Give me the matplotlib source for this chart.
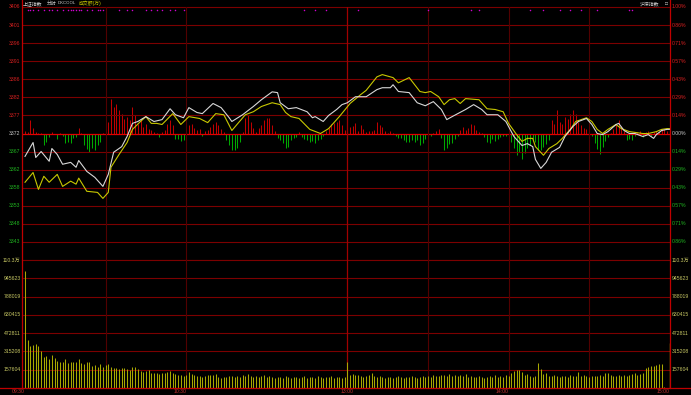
import numpy as np
import matplotlib
matplotlib.use("Agg")
import matplotlib.pyplot as plt
import matplotlib.transforms as mtransforms

plt.rcParams['font.family'] = ['Liberation Sans', 'Noto Sans CJK SC', 'DejaVu Sans']

# ---- data (minute index 0 = 09:30, 120 = 11:30/13:00, 240 = 15:00) ----
prev_close = 3372.0
amount_max = 1103226.5   # 成交额 axis top, 万

# 上证指数 (white line)
white_t = [0, 3, 4, 6, 9, 10, 12, 14, 17, 19,
           20, 23, 26, 29, 31, 33, 36, 38, 40, 42,
           45, 48, 51, 54, 56, 59, 61, 64, 66, 70,
           73, 76, 77, 81, 85, 88, 92, 94, 95, 98,
           101, 105, 107, 108, 111, 113, 116, 118, 120, 123,
           127, 131, 133, 136, 137, 139, 143, 146, 149, 152,
           155, 157, 159, 164, 167, 170, 172, 176, 179, 182,
           185, 187, 189, 190, 192, 194, 196, 199, 201, 204,
           206, 209, 211, 213, 215, 217, 220, 221, 223, 225,
           227, 230, 232, 234, 235, 237, 239, 240]
white_p = [3365.9, 3369.6, 3365.6, 3367.2, 3364.6, 3368.0, 3366.4, 3363.8, 3364.3, 3363.0,
           3364.8, 3361.9, 3360.3, 3357.9, 3361.1, 3367.0, 3368.5, 3371.2, 3374.7, 3375.2,
           3376.5, 3375.2, 3375.7, 3378.6, 3377.0, 3376.2, 3378.9, 3377.6, 3377.3, 3380.0,
           3378.9, 3376.2, 3375.2, 3377.0, 3379.2, 3381.0, 3383.1, 3382.9, 3380.2, 3378.6,
           3378.9, 3377.8, 3376.2, 3376.5, 3375.2, 3376.8, 3378.4, 3379.7, 3380.2, 3381.8,
           3381.8, 3383.7, 3384.2, 3384.2, 3385.0, 3383.2, 3382.9, 3380.2, 3379.4, 3380.5,
           3378.4, 3375.7, 3376.5, 3378.4, 3379.7, 3378.4, 3377.0, 3377.0, 3375.2, 3371.2,
           3368.8, 3369.3, 3368.5, 3365.1, 3362.7, 3364.3, 3367.0, 3368.3, 3371.2, 3373.9,
           3375.2, 3376.0, 3374.4, 3372.0, 3371.7, 3372.5, 3374.4, 3374.7, 3372.8, 3372.0,
           3372.0, 3371.2, 3371.7, 3370.7, 3371.7, 3372.8, 3373.1, 3373.1]

# 不含加权 (yellow line)
yellow_t = [0, 3, 5, 7, 9, 12, 14, 17, 19, 20,
            23, 27, 29, 31, 32, 35, 38, 40, 43, 45,
            47, 49, 51, 55, 58, 61, 65, 68, 71, 74,
            77, 82, 85, 88, 92, 95, 97, 99, 102, 106,
            110, 113, 117, 121, 125, 127, 131, 133, 137, 139,
            143, 147, 149, 151, 154, 156, 158, 160, 162, 164,
            169, 172, 175, 178, 180, 183, 185, 187, 189, 190,
            193, 195, 198, 200, 203, 205, 209, 211, 213, 215,
            217, 220, 222, 225, 227, 230, 232, 235, 237, 239, 240]
yellow_p = [3359.0, 3361.6, 3357.1, 3360.6, 3359.0, 3361.1, 3357.9, 3359.3, 3358.5, 3360.1,
            3356.6, 3356.3, 3354.7, 3356.3, 3363.0, 3366.4, 3369.6, 3373.1, 3375.2, 3376.5,
            3374.7, 3374.7, 3374.4, 3377.3, 3374.4, 3376.5, 3376.0, 3374.9, 3377.3, 3377.0,
            3372.8, 3377.0, 3377.8, 3379.2, 3380.2, 3379.7, 3377.6, 3376.5, 3376.0, 3373.1,
            3372.0, 3373.3, 3376.5, 3380.0, 3382.4, 3383.5, 3387.1, 3387.7, 3386.9, 3385.5,
            3386.9, 3383.2, 3382.9, 3383.2, 3381.8, 3379.7, 3381.0, 3381.3, 3380.0, 3381.3,
            3381.0, 3378.6, 3378.4, 3377.8, 3374.7, 3371.7, 3369.9, 3370.7, 3370.7, 3368.5,
            3366.2, 3368.0, 3369.3, 3370.7, 3373.1, 3375.2, 3376.2, 3375.2, 3373.1, 3372.0,
            3373.1, 3374.4, 3373.3, 3372.5, 3372.3, 3372.0, 3372.0, 3372.5, 3373.1, 3373.3, 3373.3]

# DKCOOL red/green bars, one per minute
dkcool = [3, 2, 14, 6, 2, 1, 1, -11, -8, -3,
          2, 0, -5, 1, -2, -9, -8, -9, -4, -3,
          6, 1, -11, -15, -18, -14, -16, -11, -8, 1,
          5, 12, 35, 27, 30, 24, 20, 15, 17, 14,
          27, 19, 10, 14, 7, 10, 5, 4, 2, 1,
          -3, 2, 4, 10, 14, 9, -5, -5, -7, -6,
          2, 9, 10, 6, 4, 5, -2, 3, 4, 7,
          10, 12, 9, 5, 2, -6, -11, -16, -16, -14,
          -8, 2, 16, 19, 12, 6, 2, 6, 9, 14,
          16, 16, 9, 3, -4, -6, -9, -14, -13, -6,
          -4, -3, 2, -3, -5, -6, -8, -7, -9, -6,
          -5, -2, 3, 6, 10, 11, 12, 14, 9, 4,
          6, 7, 8, 11, 3, 9, 5, 2, 3, 3,
          4, 12, 9, 7, 3, 1, 3, 1, -2, -4,
          -4, -6, -8, -8, -6, -8, -6, -11, -9, -5,
          -3, -2, 1, 3, 5, -4, -16, -14, -10, -9,
          -5, -2, 4, 7, 4, 6, 10, 9, 4, 2,
          1, -3, -8, -9, -5, -7, -5, -3, -2, -2,
          -3, -8, -14, -21, -18, -25, -19, -14, -11, -5,
          -8, -16, -16, -13, -10, -6, 14, 10, 24, 12,
          10, 17, 15, 20, 24, 20, 12, 9, 6, 5,
          3, -2, -9, -15, -20, -13, -7, -3, 1, 5,
          9, 14, 8, 3, -6, -5, -6, -2, 2, 3,
          -3, 2, 3, -2, 2, 3, 2, 5, 5, 3, 2]

# 成交额 per minute, 亿元
amount_yi = [100.8, 41.7, 36.5, 37.4, 38.2, 36.5, 32.1, 26.9, 27.8, 25.2,
             28.7, 26.1, 23.5, 22.6, 22.6, 25.2, 21.7, 22.6, 22.6, 22.6,
             25.2, 21.7, 20.9, 22.6, 22.6, 19.1, 20.0, 18.2, 20.9, 18.2,
             20.0, 20.9, 18.2, 17.4, 17.4, 16.5, 17.4, 17.4, 16.5, 15.6,
             18.2, 18.2, 16.5, 14.8, 13.9, 14.8, 15.6, 13.0, 13.0, 13.0,
             12.2, 13.0, 13.0, 13.9, 14.8, 13.0, 12.2, 11.3, 11.3, 10.4,
             11.3, 13.9, 12.2, 11.3, 10.4, 10.4, 9.6, 10.4, 11.3, 11.3,
             11.3, 12.2, 9.6, 8.7, 9.6, 9.6, 10.4, 10.4, 9.6, 10.4,
             9.6, 11.3, 10.4, 12.2, 10.4, 9.6, 10.4, 9.6, 10.4, 11.3,
             9.6, 10.4, 9.6, 8.7, 9.6, 9.6, 8.7, 10.4, 9.6, 8.7,
             9.6, 9.6, 8.7, 9.6, 10.4, 8.7, 9.6, 9.6, 8.7, 10.4,
             9.6, 8.7, 9.6, 9.6, 10.4, 8.7, 9.6, 9.6, 8.7, 9.6,
             22.6, 11.3, 12.2, 11.3, 11.3, 10.4, 9.6, 10.4, 11.3, 13.0,
             10.4, 9.6, 10.4, 9.6, 8.7, 9.6, 9.6, 8.7, 9.6, 10.4,
             9.6, 8.7, 9.6, 9.6, 10.4, 9.6, 8.7, 9.6, 10.4, 9.6,
             10.4, 9.6, 11.3, 10.4, 10.4, 11.3, 11.3, 10.4, 12.2, 10.4,
             11.3, 10.4, 11.3, 10.4, 12.2, 9.6, 10.4, 9.6, 9.6, 10.4,
             9.6, 8.7, 9.6, 10.4, 9.6, 11.3, 9.6, 10.4, 9.6, 11.3,
             10.4, 13.0, 14.8, 15.6, 15.6, 13.9, 11.3, 12.2, 10.4, 9.6,
             10.4, 21.7, 16.5, 12.2, 13.0, 10.4, 10.4, 11.3, 10.4, 9.6,
             10.4, 10.4, 9.6, 11.3, 10.4, 10.4, 13.9, 10.4, 11.3, 10.4,
             9.6, 10.4, 10.4, 10.4, 11.3, 10.4, 13.0, 13.0, 11.3, 10.4,
             10.4, 11.3, 10.4, 11.3, 10.4, 11.3, 12.2, 13.0, 11.3, 12.2,
             13.0, 17.4, 18.2, 19.1, 19.1, 20.0, 20.9, 20.9, 0.9, 0.0, 39.1]

# magenta markers along the top
marker_t = [1, 2, 3, 5, 7, 9, 10, 12, 14, 16, 17, 18, 19, 20, 21, 23, 25, 27, 28, 29,
            35, 38, 40, 45, 47, 49, 51, 54, 56, 59, 104, 108, 112, 124, 150, 166, 169,
            188, 193, 199, 203, 207, 213, 225, 226]

time_ticks = [0, 60, 120, 180, 240]
time_labels = ['09:30', '10:30', '13:00', '14:00', '15:00']

# ---- figure ----
W, H = 691, 395
fig = plt.figure(figsize=(W / 100, H / 100), dpi=100, facecolor='black')

L, R, TOP, MID, BOT = 22, 670, 7, 260, 388
ax_dk = fig.add_axes([L / W, 1 - MID / H, (R - L) / W, (MID - TOP) / H])
ax = fig.add_axes([L / W, 1 - MID / H, (R - L) / W, (MID - TOP) / H])
ax_v = fig.add_axes([L / W, 1 - BOT / H, (R - L) / W, (BOT - MID) / H])
ax.patch.set_visible(False)
for a in (ax, ax_dk, ax_v):
    a.set_facecolor('black')
    a.set_xlim(-1.12, 240.1)
    a.set_xticks([])
    a.set_yticks([])
    for s in a.spines.values():
        s.set_visible(False)

lo, hi = prev_close * 0.99, prev_close * 1.01
ax.set_ylim(lo, hi)
ax_dk.set_ylim(-126.5, 126.5)
ax_v.set_ylim(0, amount_max / 10000)

RED = '#d82020'
GREEN = '#20b420'
GRID = '#7c0000'
LBL = 3.7

# horizontal grid + price labels
for k in range(-7, 8):
    yv = prev_close * (1 + k / 700)
    if k == 0:
        ax.axhline(yv, color='#e00000', lw=0.9, zorder=1)
        c = '#c8c8c8'
    else:
        ax.axhline(yv, color=GRID, lw=0.8, zorder=1, clip_on=False)
        c = RED if k > 0 else GREEN
    if k == -7:
        continue
    ax.text(-0.002, yv, f'{yv:.0f}', transform=ax.get_yaxis_transform(),
            ha='right', va='center', color=c, fontsize=LBL, clip_on=False)
    ax.text(1.003, yv, f'{abs(k) / 7:.2f}%', transform=ax.get_yaxis_transform(),
            ha='left', va='center', color=c, fontsize=LBL, clip_on=False)

# volume grid + labels
VCOL = '#c8c864'
for k in range(1, 8):
    yv = amount_max / 10000 * k / 7
    ax_v.axhline(yv, color=GRID, lw=0.8, zorder=1, clip_on=False)
    txt = f'{amount_max / 10000:.1f}万' if k == 7 else f'{amount_max * k / 7:.0f}'
    for xa, ha in ((-0.002, 'right'), (1.003, 'left')):
        ax_v.text(xa, yv, txt, transform=ax_v.get_yaxis_transform(),
                  ha=ha, va='center', color=VCOL, fontsize=LBL, clip_on=False)

# vertical time grid
for t in [30, 60, 150, 180, 210]:
    for a in (ax, ax_v):
        a.axvline(t, color='#520000', lw=0.8, zorder=1)
for a in (ax, ax_v):
    a.axvline(120, color='#a00000', lw=0.9, zorder=1)

# DKCOOL bars
mins = np.arange(len(dkcool))
dk = np.array(dkcool)
ax_dk.vlines(mins[dk > 0], 0, dk[dk > 0], color='#c00000', lw=0.75, zorder=2)
ax_dk.vlines(mins[dk < 0], 0, dk[dk < 0], color='#00a800', lw=0.75, zorder=2)

# price lines
ax.plot(yellow_t, yellow_p, color='#c8c800', lw=0.8, zorder=4)
ax.plot(white_t, white_p, color='#d8d8d8', lw=0.8, zorder=5)

# top markers
mk = mtransforms.blended_transform_factory(ax.transData, ax.transAxes)
ax.scatter(marker_t, [0.988] * len(marker_t), s=1.2, color='#d000d0',
           transform=mk, zorder=6, linewidths=0, clip_on=False)

# 成交额 bars
amt = np.array(amount_yi)
vm = np.arange(len(amt))
ax_v.vlines(vm[:-1], 0, amt[:-1], color='#a8a800', lw=0.75, zorder=2)
ax_v.vlines(vm[-1:], 0, amt[-1:], color='#f0f000', lw=0.9, zorder=2)

# frame lines
fig.add_artist(plt.Line2D([L / W, L / W], [1 - BOT / H, 1], color='#c00000', lw=0.9))
fig.add_artist(plt.Line2D([R / W, R / W], [1 - BOT / H, 1], color='#c00000', lw=0.9))
fig.add_artist(plt.Line2D([0, 1], [1 - BOT / H, 1 - BOT / H], color='#c00000', lw=0.9))

# time labels
tx = mtransforms.blended_transform_factory(ax_v.transData, ax_v.transAxes)
for t, lab in zip(time_ticks, time_labels):
    ha = 'center' if t == 120 else 'right'
    ax_v.text(t, -0.028, lab, transform=tx, ha=ha, va='center',
              color='#c03030', fontsize=LBL, clip_on=False)

# header texts
HY = 1 - 3.5 / H
fig.text(23 / W, HY, '上证指数', color='#d0d0d0', fontsize=3.5, va='center')
fig.text(47 / W, HY, '分时', color='#d0d0d0', fontsize=3.5, va='center')
fig.text(58 / W, HY, 'DKCOOL', color='#d0d0d0', fontsize=3.1, va='center')
fig.text(79 / W, HY, '成交额(万)', color='#c8c800', fontsize=3.5, va='center')
fig.text(640 / W, HY, '沪深指数', color='#d0d0d0', fontsize=3.5, va='center')
fig.text(665 / W, HY, '□', color='#d0d0d0', fontsize=3.5, va='center')

fig.savefig('out.png', dpi=100, facecolor='black')
